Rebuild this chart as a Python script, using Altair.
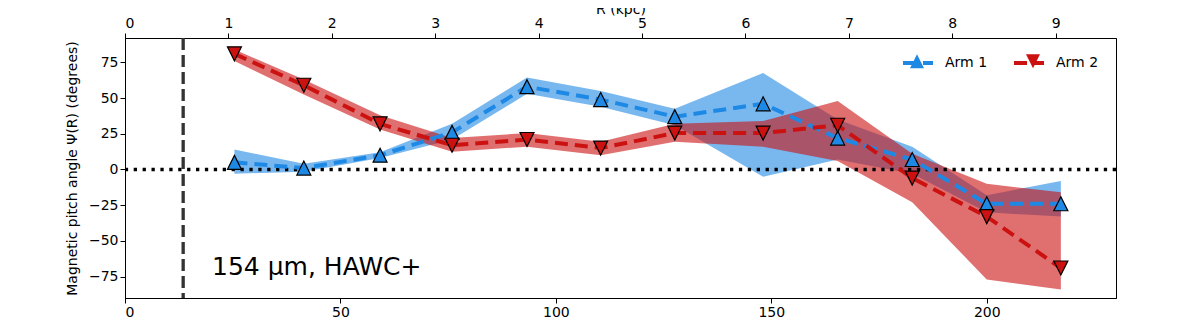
import altair as alt
import pandas as pd

# ---------------- data ----------------
# radial bin centres (arcsec, bottom axis)
r_arcsec = [25.4, 41.5, 59.2, 75.9, 93.3, 110.4, 127.6, 148.1, 165.4, 182.7, 200.0, 217.2]

# Arm 1: pitch angle and its uncertainty band (degrees)
arm1_psi = [5, 1, 10, 26, 58, 49, 37, 46, 22, 7, -24, -24]
arm1_lo = [-3, -1.5, 8, 21, 53, 44, 31, -5, 7, -3, -30, -33]
arm1_hi = [14, 4, 12, 32, 64.5, 55, 42.5, 67.5, 35, 16, -18, -8]

# Arm 2: pitch angle and its uncertainty band (degrees)
arm2_psi = [81, 59, 32, 17, 21, 15, 25.5, 25.5, 31, -6, -33, -69]
arm2_lo = [76, 52.5, 28, 12.5, 16, 10, 19.5, 16, 6, -23, -77, -84]
arm2_hi = [84, 63, 38, 22, 25.5, 19.5, 32, 34, 48, 11, -10, -16]

arm_names = ["Arm 1", "Arm 2"]
marker_keys = ["m1", "m2"]

x_ticks = [0, 50, 100, 150, 200]
kpc_ticks = [0, 1, 2, 3, 4, 5, 6, 7, 8, 9]
y_ticks = [-75, -50, -25, 0, 25, 50, 75]

x_domain = [0, 230]
arcsec_per_kpc = 24.0
y_domain = [-90, 92.1]

inner_radius = [13.5]          # vertical dashed line (arcsec)
zero_level = [0]               # horizontal dotted line
label_text = "154 μm, HAWC+"
label_x = 20.2
label_y = -68.5

BLUE = "#1E88E5"
RED = "#CC1111"
FONT = "DejaVu Sans"
FS = 14
UP = "M0,-1L1,1L-1,1Z"
DOWN = "M0,1L1,-1L-1,-1Z"
MINUS = "replace(datum.label, '-', '\u2212')"

# ---------------- tables ----------------
n = len(r_arcsec)
df = pd.DataFrame({
    "r": r_arcsec + r_arcsec,
    "psi": arm1_psi + arm2_psi,
    "lo": arm1_lo + arm2_lo,
    "hi": arm1_hi + arm2_hi,
    "arm": [arm_names[0]] * n + [arm_names[1]] * n,
    "arm_m": [marker_keys[0]] * n + [marker_keys[1]] * n,
})
df1 = df[df["arm"] == arm_names[0]]
df2 = df[df["arm"] == arm_names[1]]
kpc_df = pd.DataFrame({"k": [0, x_domain[1] / arcsec_per_kpc]})
vline_df = pd.DataFrame({"r": inner_radius})
hline_df = pd.DataFrame({"psi": zero_level})
text_df = pd.DataFrame({"r": [label_x], "psi": [label_y], "t": [label_text]})

common_axis = dict(labelFont=FONT, titleFont=FONT, labelFontSize=FS, titleFontSize=FS,
                   labelColor="black", titleColor="black", tickColor="black",
                   domainColor="black", grid=False, tickSize=5, titleFontWeight="normal",
                   domainWidth=1, tickWidth=1)

xscale = alt.Scale(domain=x_domain, nice=False, zero=False)
yscale = alt.Scale(domain=y_domain, nice=False, zero=False)
xaxis = alt.Axis(values=x_ticks, title=None, orient="bottom", labelPadding=2, **common_axis)
yaxis = alt.Axis(values=y_ticks, title="Magnetic pitch angle Ψ(R) (degrees)",
                 titleX=-53, titleY=130, titleAngle=-90, titleAlign="center",
                 titleBaseline="middle", labelPadding=2, labelExpr=MINUS, **common_axis)

X = alt.X("r:Q", scale=xscale, axis=xaxis)
Y = alt.Y("psi:Q", scale=yscale, axis=yaxis)

band1 = alt.Chart(df1).mark_area(color=BLUE, opacity=0.6).encode(
    x=X, y=alt.Y("lo:Q", scale=yscale, axis=yaxis), y2="hi:Q")
band2 = alt.Chart(df2).mark_area(color=RED, opacity=0.6).encode(
    x=X, y=alt.Y("lo:Q", scale=yscale, axis=yaxis), y2="hi:Q")

hline = alt.Chart(hline_df).mark_rule(color="black", strokeWidth=3.3,
                                      strokeDash=[3.3, 5.6]).encode(y=alt.Y("psi:Q", scale=yscale, axis=yaxis))
vline = alt.Chart(vline_df).mark_rule(color="#333333", strokeWidth=3.3,
                                      strokeDash=[12, 5]).encode(x=X)

line_legend = alt.Legend(orient="none", legendX=776, legendY=8, direction="horizontal",
                         title=None, symbolType="stroke", symbolSize=900,
                         symbolStrokeWidth=4, symbolDash=[13, 7], labelOffset=10,
                         columnPadding=18, padding=0, labelFontSize=FS, labelFont=FONT,
                         labelColor="black")
lines = alt.Chart(df).mark_line(strokeWidth=4, strokeDash=[13, 7]).encode(
    x=X, y=Y,
    color=alt.Color("arm:N", scale=alt.Scale(domain=arm_names, range=[BLUE, RED]),
                    legend=line_legend),
    detail="arm:N")

pt_legend = alt.Legend(orient="none", legendX=784, legendY=15, direction="horizontal",
                       title=None, symbolSize=196, symbolStrokeColor="black",
                       symbolStrokeWidth=1.2, labelOffset=0, columnPadding=96,
                       padding=0, labelFontSize=FS, labelFont=FONT, labelExpr="''")
points = alt.Chart(df).mark_point(filled=True, size=196, stroke="black",
                                  strokeWidth=1.2, opacity=1).encode(
    x=X, y=Y,
    fill=alt.Fill("arm_m:N", scale=alt.Scale(domain=marker_keys, range=[BLUE, RED]),
                  legend=pt_legend),
    shape=alt.Shape("arm_m:N", scale=alt.Scale(domain=marker_keys, range=[UP, DOWN]),
                    legend=pt_legend))

label = alt.Chart(text_df).mark_text(align="left", baseline="middle", fontSize=25,
                                     font=FONT, color="black").encode(
    x=X, y=Y, text="t:N")

inner = alt.layer(band1, band2, hline, vline, lines, points, label)

top = alt.Chart(kpc_df).mark_point(opacity=0).encode(
    x=alt.X("k:Q", scale=alt.Scale(domain=[0, x_domain[1] / arcsec_per_kpc], nice=False, zero=False),
            axis=alt.Axis(orient="top", values=kpc_ticks, title="R (kpc)",
                          titleY=-25, titleBaseline="alphabetic", labelPadding=3,
                          **common_axis)))

chart = alt.layer(inner, top).resolve_scale(x="independent").properties(
    width=991, height=260,
    autosize=alt.AutoSizeParams(type="none"),
    padding={"left": 117, "top": 30, "right": 72, "bottom": 21},
).configure_view(stroke="black", strokeWidth=1)

chart.save("out.html", embed_options={"renderer": "svg", "actions": False})
